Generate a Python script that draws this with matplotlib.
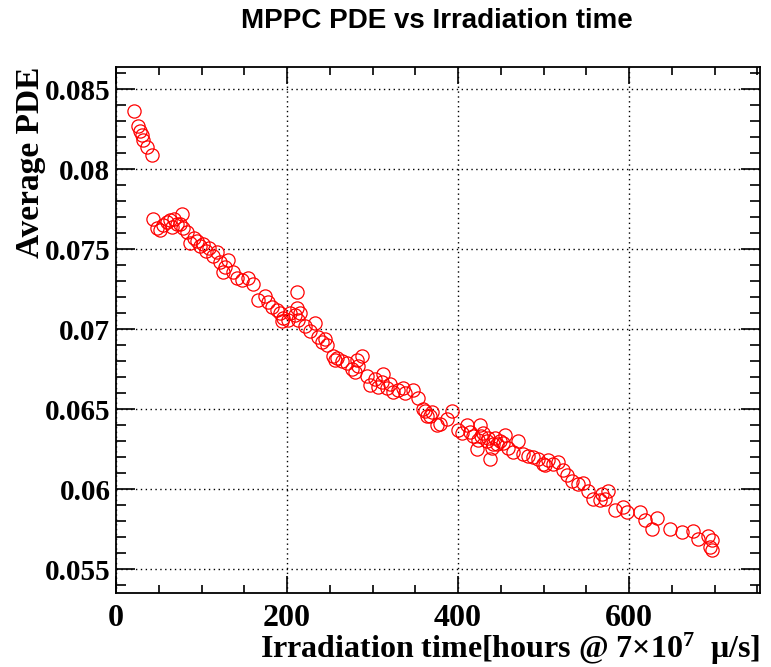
import numpy as np
import matplotlib
matplotlib.use("Agg")
import matplotlib.pyplot as plt
from matplotlib.ticker import MultipleLocator

# irradiation time [hours] and average PDE
hours = [21.0, 26.0, 28.0, 30.0, 32.0, 36.5, 42.5,
         43.7, 47.5, 51.5, 55.3, 59.3, 63.2, 65.1, 67.8, 71.0, 74.9, 76.8, 78.7,
         82.6, 86.5, 91.0, 95.0, 98.2, 102.0, 105.0, 109.0, 113.8, 118.5, 121.6,
         125.5, 127.5, 131.0, 137.0, 141.0, 147.0, 154.7, 160.6, 166.4, 174.3,
         178.2, 182.0, 188.0, 191.8, 193.8, 195.7, 201.5, 203.5, 209.4, 211.3,
         211.3, 213.2, 215.2, 221.0, 227.0, 232.7, 236.6, 240.6, 244.4, 246.4,
         254.2, 258.0, 256.0, 264.0, 269.8, 275.6, 279.5, 281.5, 283.4, 287.3,
         293.2, 297.0, 302.9, 306.8, 310.7, 312.6, 316.5, 320.5, 324.3, 330.2,
         336.0, 338.0, 347.7, 353.6, 359.4, 361.4, 363.3, 367.3, 369.2, 375.0,
         379.0, 386.7, 392.6, 400.4, 404.3, 410.2, 414.0, 418.0, 421.8, 423.7,
         425.7, 427.0, 429.6, 433.5, 435.0, 437.4, 439.3, 441.0, 443.2, 446.0,
         449.1, 452.0, 454.9, 458.9, 464.7, 470.5, 476.3, 482.2, 488.0, 493.8,
         499.6, 501.8, 505.5, 511.4, 517.3, 523.2, 527.0, 533.0, 540.7, 546.6,
         552.4, 558.3, 566.0, 568.0, 572.0, 575.8, 583.6, 593.3, 597.2, 612.9,
         618.7, 626.5, 632.3, 648.0, 661.6, 675.2, 681.0, 692.7, 696.6, 694.7,
         696.6]
pde = [0.0836, 0.0827, 0.0824, 0.0821, 0.0818, 0.0814, 0.0809,
       0.0769, 0.0763, 0.0762, 0.0765, 0.0767, 0.0768, 0.0764, 0.0769, 0.0766, 0.0766, 0.0772, 0.0763,
       0.0761, 0.0754, 0.0757, 0.0755, 0.0752, 0.0753, 0.0749, 0.0751, 0.0746, 0.0748, 0.0742,
       0.0736, 0.0739, 0.0743, 0.0736, 0.0732, 0.0731, 0.0732, 0.0728, 0.0718, 0.0721,
       0.0717, 0.0714, 0.0712, 0.0710, 0.0705, 0.0707, 0.0706, 0.0710, 0.0709, 0.0713,
       0.0723, 0.0706, 0.0710, 0.0702, 0.0699, 0.0704, 0.0695, 0.0692, 0.0694, 0.0690,
       0.0683, 0.0682, 0.0681, 0.0680, 0.0679, 0.0675, 0.0673, 0.0681, 0.0677, 0.0683,
       0.0671, 0.0665, 0.0669, 0.0664, 0.0667, 0.0672, 0.0663, 0.0666, 0.0661, 0.0662,
       0.0663, 0.0660, 0.0662, 0.0657, 0.0650, 0.0649, 0.0646, 0.0646, 0.0648, 0.0640,
       0.0641, 0.0644, 0.0649, 0.0637, 0.0635, 0.0640, 0.0636, 0.0633, 0.0625, 0.0631,
       0.0640, 0.0633, 0.0635, 0.0630, 0.0632, 0.0619, 0.0626, 0.0628, 0.0632, 0.0628,
       0.0630, 0.0629, 0.0634, 0.0626, 0.0623, 0.0630, 0.0622, 0.0621, 0.0620, 0.0619,
       0.0616, 0.0615, 0.0618, 0.0616, 0.0617, 0.0612, 0.0609, 0.0605, 0.0603, 0.0604,
       0.0599, 0.0594, 0.0593, 0.0597, 0.0594, 0.0599, 0.0587, 0.0589, 0.0586, 0.0586,
       0.0581, 0.0575, 0.0582, 0.0575, 0.0573, 0.0574, 0.0569, 0.0571, 0.0568, 0.0564,
       0.0562]

plt.rcParams['mathtext.fontset'] = 'custom'
plt.rcParams['mathtext.rm'] = 'Liberation Serif:bold'
plt.rcParams['mathtext.it'] = 'Liberation Serif:bold'
plt.rcParams['mathtext.bf'] = 'Liberation Serif:bold'

fig = plt.figure(figsize=(7.71, 6.67), dpi=100)
ax = fig.add_axes([0.1505, 0.111, 0.8352, 0.7886])

ax.plot(hours, pde, linestyle='none', marker='o', markersize=9.5,
        markerfacecolor='none', markeredgecolor='red', markeredgewidth=0.9)

ax.set_xlim(0, 753)
ax.set_ylim(0.05352, 0.08638)

ax.xaxis.set_major_locator(MultipleLocator(200))
ax.xaxis.set_minor_locator(MultipleLocator(50))
ax.yaxis.set_major_locator(MultipleLocator(0.005))
ax.yaxis.set_minor_locator(MultipleLocator(0.001))
ax.yaxis.set_major_formatter(plt.FuncFormatter(lambda v, p: ('%g' % round(v, 4))))

ax.grid(True, which='major', linestyle=(0, (1, 2.5)), color='black', linewidth=1.0)

ax.tick_params(which='both', direction='in', top=True, right=True, width=1.2)
ax.tick_params(axis='y', which='major', length=14)
ax.tick_params(axis='y', which='minor', length=7)
ax.tick_params(axis='x', which='major', length=12)
ax.tick_params(axis='x', which='minor', length=6)
ax.tick_params(axis='x', pad=8)
ax.tick_params(axis='y', pad=4)

for lab in ax.get_xticklabels():
    lab.set_fontfamily('Liberation Serif')
    lab.set_fontweight('bold')
    lab.set_fontsize(23)
for lab in ax.get_yticklabels():
    lab.set_fontfamily('Liberation Serif')
    lab.set_fontweight('bold')
    lab.set_fontsize(21)

for s in ax.spines.values():
    s.set_linewidth(1.3)

fig.text(0.9857, 1 - 658 / 667, 'Irradiation time[hours @ 7$\\times$10$^{7}$  μ/s]',
         ha='right', va='baseline', fontfamily='Liberation Serif',
         fontweight='bold', fontsize=23)
ax.set_ylabel('Average PDE', loc='top', fontfamily='Liberation Serif',
              fontweight='bold', fontsize=24, labelpad=-1)

fig.text(0.567, 0.968, 'MPPC PDE vs Irradiation time', ha='center', va='center',
         fontfamily='Liberation Sans', fontweight='bold', fontsize=20)

fig.savefig('out.png', dpi=100)
